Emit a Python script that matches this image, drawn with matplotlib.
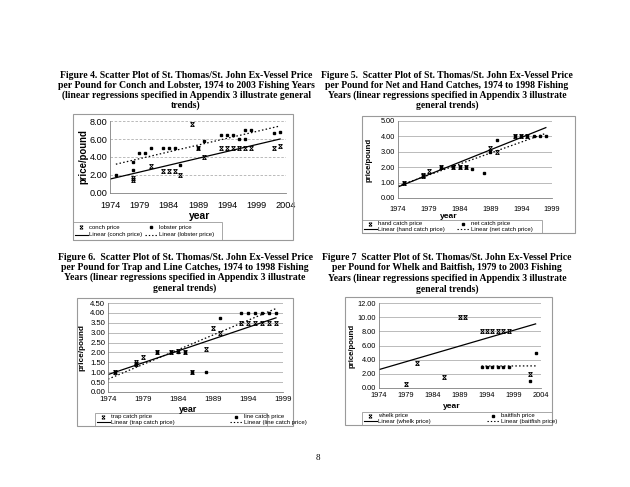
import matplotlib
matplotlib.use("Agg")
import matplotlib.pyplot as plt
from matplotlib.patches import Rectangle
from matplotlib.lines import Line2D
from matplotlib.path import Path

W, H = 630, 487

# ---- Figure 4: conch / lobster
conch_years = [1978, 1978, 1981, 1983, 1984, 1985, 1986, 1988, 1989, 1990,
               1993, 1994, 1995, 1996, 1997, 1998, 2002, 2003]
conch_price = [1.5, 1.7, 3.0, 2.5, 2.5, 2.5, 2.0, 7.7, 5.0, 4.0,
               5.0, 5.0, 5.0, 5.0, 5.0, 5.0, 5.0, 5.2]
lobster_years = [1975, 1978, 1978, 1979, 1980, 1981, 1983, 1984, 1985, 1986,
                 1989, 1990, 1993, 1994, 1995, 1996, 1997, 1997, 1998, 2002, 2003]
lobster_price = [2.0, 2.6, 3.5, 4.5, 4.5, 5.0, 5.0, 5.0, 5.0, 3.1,
                 5.0, 5.8, 6.5, 6.5, 6.5, 6.0, 7.0, 6.0, 7.0, 6.7, 6.8]
conch_trend = ([1974, 2003], [1.55, 6.0])
lobster_trend = ([1975, 2003], [3.2, 7.45])

# ---- Figure 5: hand / net
hand_years = [1975, 1978, 1978, 1979, 1981, 1983, 1984, 1985, 1989, 1990, 1993, 1994, 1995]
hand_price = [1.0, 1.5, 1.4, 1.75, 2.0, 2.0, 2.0, 2.0, 3.25, 3.0, 4.0, 4.0, 4.0]
net_years = [1975, 1978, 1981, 1983, 1984, 1985, 1986, 1988, 1989, 1990,
             1993, 1994, 1995, 1996, 1997, 1998]
net_price = [1.0, 1.4, 2.0, 2.0, 2.0, 2.0, 1.9, 1.65, 3.0, 3.75,
             4.0, 4.0, 4.0, 4.0, 4.0, 4.0]
hand_trend = ([1974, 1998], [0.72, 4.57])
net_trend = ([1974, 1998], [0.78, 4.2])

# ---- Figure 6: trap / line
trap_years = [1975, 1978, 1978, 1979, 1981, 1983, 1984, 1985, 1986, 1988,
              1989, 1990, 1993, 1994, 1995, 1996, 1997, 1998]
trap_price = [1.0, 1.5, 1.4, 1.75, 2.0, 2.0, 2.05, 2.0, 1.0, 2.15,
              3.25, 3.0, 3.5, 3.5, 3.5, 3.5, 3.5, 3.5]
line_years = [1975, 1978, 1981, 1983, 1984, 1985, 1986, 1988, 1990,
              1993, 1994, 1995, 1996, 1997, 1998]
line_price = [1.0, 1.4, 2.0, 2.0, 2.0, 2.0, 1.0, 1.0, 3.75,
              4.0, 4.0, 4.0, 4.0, 4.0, 4.0]
trap_trend = ([1974, 1998], [0.88, 3.75])
line_trend = ([1974, 1998], [0.65, 4.22])

# ---- Figure 7: whelk / baitfish
whelk_years = [1979, 1981, 1986, 1989, 1990, 1993, 1994, 1995, 1996, 1997, 1998, 2002]
whelk_price = [0.6, 3.5, 1.6, 10.0, 10.0, 8.0, 8.0, 8.0, 8.0, 8.0, 8.0, 2.0]
bait_years = [1993, 1994, 1995, 1996, 1997, 1998, 2002, 2003]
bait_price = [3.0, 3.0, 3.0, 3.0, 3.0, 3.0, 1.05, 5.0]
whelk_trend = ([1974, 2003], [2.6, 9.05])
bait_trend = ([1993, 2003], [3.1, 3.12])

titles = {
    4: ["Figure 4. Scatter Plot of St. Thomas/St. John Ex-Vessel Price",
        "per Pound for Conch and Lobster, 1974 to 2003 Fishing Years",
        "(linear regressions specified in Appendix 3 illustrate general",
        "trends)"],
    5: ["Figure 5.  Scatter Plot of St. Thomas/St. John Ex-Vessel Price",
        "per Pound for Net and Hand Catches, 1974 to 1998 Fishing",
        "Years (linear regressions specified in Appendix 3 illustrate",
        "general trends)"],
    6: ["Figure 6.  Scatter Plot of St. Thomas/St. John Ex-Vessel Price",
        "per Pound for Trap and Line Catches, 1974 to 1998 Fishing",
        "Years (linear regressions specified in Appendix 3 illustrate",
        "general trends)"],
    7: ["Figure 7  Scatter Plot of St. Thomas/St. John Ex-Vessel Price",
        "per Pound for Whelk and Baitfish, 1979 to 2003 Fishing",
        "Years (linear regressions specified in Appendix 3 illustrate",
        "general trends)"],
}

# excel style "x" marker with bars top and bottom
xbar = Path([(-1, -1), (1, 1), (-1, 1), (1, -1), (-1, 1), (1, 1), (-1, -1), (1, -1)],
            [Path.MOVETO, Path.LINETO, Path.MOVETO, Path.LINETO,
             Path.MOVETO, Path.LINETO, Path.MOVETO, Path.LINETO])

fig = plt.figure(figsize=(W / 100, H / 100), dpi=100)
fig.patch.set_facecolor("white")


def fx(x):
    return x / W


def fy(y):
    return 1 - y / H


def add_title(lines, cx, y0, step=10, fs=7.0):
    for i, t in enumerate(lines):
        fig.text(fx(cx), fy(y0 + i * step), t, ha="center", va="center",
                 family="Liberation Serif", weight="bold", fontsize=fs)


def chart(box, plot, xlim, ylim, xticks, yticks, fmt, s1, s2, t1, t2, names,
          fs, ylab_x, year_xy, leg, xpad=2, dashed_grid=False):
    fig.add_artist(Rectangle((fx(box[0]), fy(box[3])), fx(box[2] - box[0]),
                             (box[3] - box[1]) / H, transform=fig.transFigure,
                             fill=False, ec="#9a9a9a", lw=0.8))
    ax = fig.add_axes([fx(plot[0]), fy(plot[3]), fx(plot[2] - plot[0]),
                       (plot[3] - plot[1]) / H])
    ax.set_xlim(*xlim)
    ax.set_ylim(*ylim)
    ax.set_xticks(xticks)
    ax.set_yticks(yticks)
    ax.set_yticklabels([fmt.format(v) for v in yticks])
    ax.tick_params(labelsize=fs, length=0, colors="black")
    ax.tick_params(axis="y", pad=2)
    ax.tick_params(axis="x", pad=xpad)
    for lab in ax.get_xticklabels() + ax.get_yticklabels():
        lab.set_family("Liberation Sans")
    ax.grid(axis="y", color="#b0b0b0", lw=0.6, ls=(0, (3, 2)) if dashed_grid else "-")
    ax.set_axisbelow(True)
    for sp in ["top", "right"]:
        ax.spines[sp].set_visible(False)
    ax.spines["left"].set_color("#808080")
    ax.spines["bottom"].set_color("#808080")
    ax.spines["left"].set_linewidth(0.6)
    ax.spines["bottom"].set_linewidth(0.6)
    ax.plot(s1[0], s1[1], ls="none", marker=xbar, ms=2.7, mew=0.6, color="black",
            clip_on=False)
    ax.plot(s2[0], s2[1], ls="none", marker="s", ms=1.9, color="black", clip_on=False)
    ax.plot(t1[0], t1[1], color="black", lw=0.9)
    ax.plot(t2[0], t2[1], color="black", lw=0.9, ls=(0, (1.2, 1.8)))

    fig.text(fx(ylab_x), fy((plot[1] + plot[3]) / 2), "price/pound", rotation=90,
             ha="center", va="center", family="Liberation Sans", weight="bold",
             fontsize=fs + 0.3)
    fig.text(fx(year_xy[0]), fy(year_xy[1]), "year", ha="center", va="center",
             family="Liberation Sans", weight="bold", fontsize=fs + 0.8)

    # legend box
    lx0, ly0, lx1, ly1, col2 = leg
    fig.add_artist(Rectangle((fx(lx0), fy(ly1)), fx(lx1 - lx0), (ly1 - ly0) / H,
                             transform=fig.transFigure, fill=False, ec="#9a9a9a", lw=0.6))
    r1 = ly0 + (ly1 - ly0) * 0.3
    r2 = ly0 + (ly1 - ly0) * 0.72
    lfs = 4.3
    for cx, row, kind, txt in [(lx0, r1, "x", names[0]), (col2, r1, "s", names[1]),
                               (lx0, r2, "-", "Linear (" + names[0] + ")"),
                               (col2, r2, ":", "Linear (" + names[1] + ")")]:
        if kind == "x":
            fig.add_artist(Line2D([fx(cx + 8)], [fy(row)], marker=xbar, ms=2.3, mew=0.5,
                                  color="black", transform=fig.transFigure))
        elif kind == "s":
            fig.add_artist(Line2D([fx(cx + 8)], [fy(row)], marker="s", ms=1.6,
                                  color="black", transform=fig.transFigure))
        elif kind == "-":
            fig.add_artist(Line2D([fx(cx + 2), fx(cx + 15)], [fy(row), fy(row)], lw=0.8,
                                  color="black", transform=fig.transFigure))
        else:
            fig.add_artist(Line2D([fx(cx + 2), fx(cx + 15)], [fy(row), fy(row)], lw=0.8,
                                  ls=(0, (1.2, 1.8)), color="black",
                                  transform=fig.transFigure))
        fig.text(fx(cx + 16), fy(row), txt, ha="left", va="center",
                 family="Liberation Sans", fontsize=lfs)
    return ax


# Figure 4
add_title(titles[4], 186, 76, 9.8)
chart(box=(73, 114, 293, 240), plot=(110, 121, 286, 193),
      xlim=(1974, 2004), ylim=(0, 8), xticks=range(1974, 2005, 5),
      yticks=[0, 2, 4, 6, 8], fmt="{:.2f}",
      s1=(conch_years, conch_price), s2=(lobster_years, lobster_price),
      t1=conch_trend, t2=lobster_trend, names=["conch price", "lobster price"],
      fs=6.6, ylab_x=83, year_xy=(200, 216),
      leg=(73, 222, 222, 240, 143), xpad=6, dashed_grid=True)

# Figure 5
add_title(titles[5], 447, 76, 9.8, fs=6.9)
chart(box=(362, 116, 575, 233), plot=(398, 121, 552, 198),
      xlim=(1974, 1999), ylim=(0, 5), xticks=range(1974, 2000, 5),
      yticks=[0, 1, 2, 3, 4, 5], fmt="{:.2f}",
      s1=(hand_years, hand_price), s2=(net_years, net_price),
      t1=hand_trend, t2=net_trend, names=["hand catch price", "net catch price"],
      fs=5.3, ylab_x=369, year_xy=(449, 217),
      leg=(362, 220, 542, 233, 455), xpad=6)

# Figure 6
add_title(titles[6], 185, 257, 10.3)
chart(box=(77, 298, 293, 426), plot=(108, 303, 283, 392),
      xlim=(1974, 1999), ylim=(0, 4.5), xticks=range(1974, 2000, 5),
      yticks=[0, 0.5, 1, 1.5, 2, 2.5, 3, 3.5, 4, 4.5], fmt="{:.2f}",
      s1=(trap_years, trap_price), s2=(line_years, line_price),
      t1=trap_trend, t2=line_trend, names=["trap catch price", "line catch price"],
      fs=5.6, ylab_x=82, year_xy=(188, 409),
      leg=(95, 413, 267, 426, 228), xpad=3)

# Figure 7
add_title(titles[7], 447, 257, 10.6, fs=6.9)
chart(box=(345, 297, 552, 425), plot=(379, 303, 541, 388),
      xlim=(1974, 2004), ylim=(0, 12), xticks=range(1974, 2005, 5),
      yticks=[0, 2, 4, 6, 8, 10, 12], fmt="{:.2f}",
      s1=(whelk_years, whelk_price), s2=(bait_years, bait_price),
      t1=whelk_trend, t2=bait_trend, names=["whelk price", "baitfish price"],
      fs=5.3, ylab_x=352, year_xy=(452, 407),
      leg=(362, 412, 552, 425, 485), xpad=3)

fig.text(fx(318), fy(458), "8", ha="center", va="center", family="Liberation Serif",
         fontsize=6.5)

fig.savefig("out.png", dpi=100, facecolor="white")
